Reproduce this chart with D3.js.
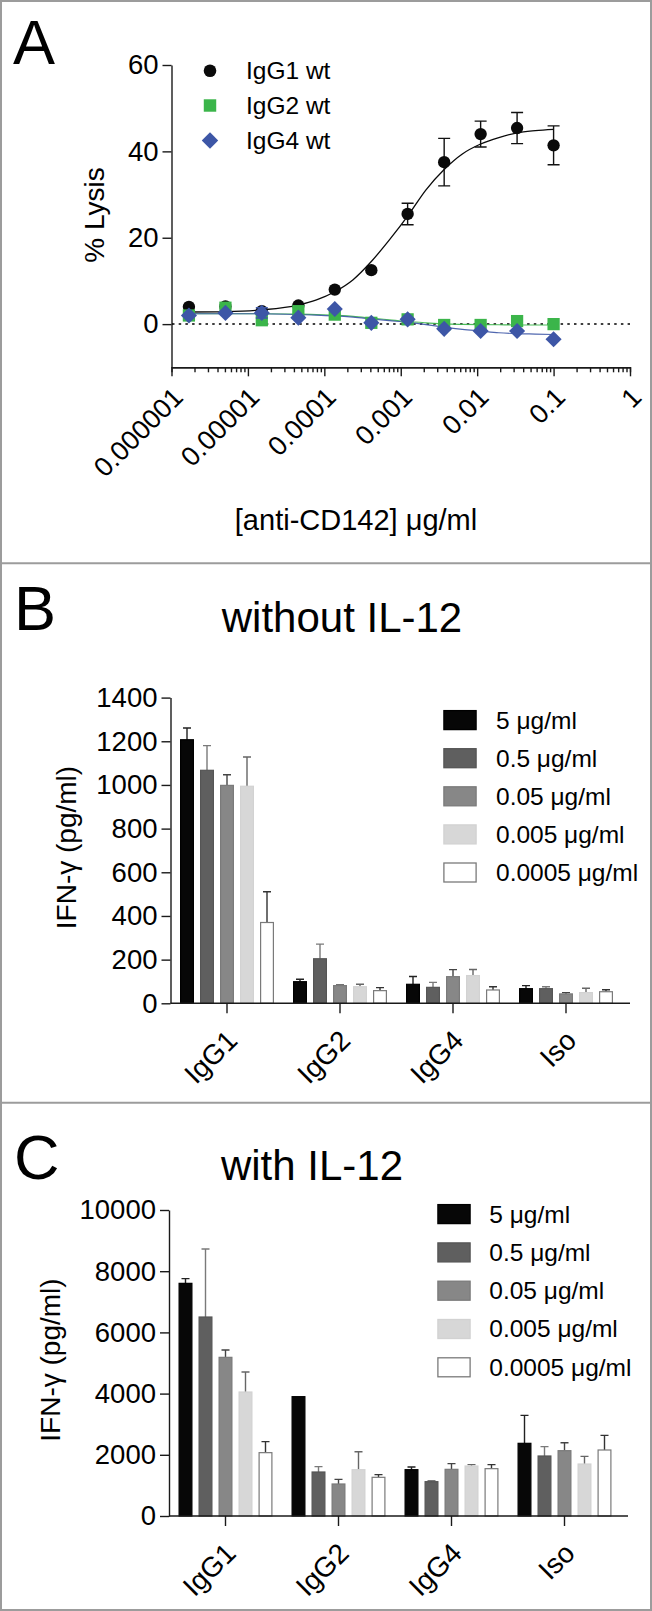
<!DOCTYPE html>
<html><head><meta charset="utf-8">
<script src="https://cdn.jsdelivr.net/npm/d3@7"></script>
<style>
html,body{margin:0;padding:0;background:#fff;}
svg text{font-family:"Liberation Sans",Arial,Helvetica,sans-serif;fill:#000;}
</style></head>
<body>
<svg id="fig" width="652" height="1611"></svg>
<script>
// ---------- Panel A data ----------
const concA = [1.69e-6, 5.08e-6, 1.52e-5, 4.57e-5, 1.37e-4, 4.12e-4, 1.23e-3, 3.70e-3, 1.11e-2, 3.33e-2, 0.1];
const lysisIgG1 = [4.0, 4.1, 3.0, 4.3, 8.0, 12.5, 25.5, 37.5, 44.0, 45.4, 41.4];
const errIgG1   = [0, 0, 0, 0, 0, 0, 2.5, 5.5, 3.0, 3.6, 4.5];
const lysisIgG2 = [2.0, 3.8, 0.9, 3.0, 2.2, 0.3, 1.1, -0.2, -0.2, 0.7, 0.0];
const errIgG2   = [0, 0, 0, 0, 0, 0, 0, 0, 0, 0, 0];
const lysisIgG4 = [2.0, 2.6, 2.6, 1.5, 3.5, 0.3, 1.1, -1.1, -1.6, -1.6, -3.5];
const errIgG4   = [0, 0, 1.2, 0, 0, 0, 0, 0, 0, 0, 0];
// fitted curves
const fitConc = [1.69e-6, 5.08e-6, 1.52e-5, 4.57e-5, 7.9e-5, 1.37e-4, 2.38e-4, 4.12e-4, 7.1e-4, 1.23e-3, 2.14e-3, 3.70e-3, 6.4e-3, 1.11e-2, 1.92e-2, 3.33e-2, 5.77e-2, 0.1];
const fitIgG1 = [2.8, 2.9, 3.3, 4.4, 5.6, 7.5, 10.3, 14.5, 19.5, 25.0, 31.1, 35.8, 39.4, 41.7, 43.2, 44.3, 44.8, 45.1];
const fitIgG2 = [2.4, 2.4, 2.4, 2.3, 2.2, 2.1, 1.8, 1.4, 1.0, 0.6, 0.3, 0.05, -0.05, -0.1, -0.15, -0.2, -0.2, -0.2];
const fitIgG4 = [2.4, 2.4, 2.4, 2.2, 2.1, 1.9, 1.6, 1.2, 0.8, 0.4, -0.1, -0.7, -1.2, -1.6, -2.0, -2.2, -2.3, -2.4];
const seriesA = ["IgG1 wt", "IgG2 wt", "IgG4 wt"];
const xTicksA = [1e-6, 1e-5, 1e-4, 1e-3, 1e-2, 1e-1, 1];
const xTickLabelsA = ["0.000001", "0.00001", "0.0001", "0.001", "0.01", "0.1", "1"];
const yTicksA = [0, 20, 40, 60];

// ---------- Panels B / C data ----------
const groups = ["IgG1", "IgG2", "IgG4", "Iso"];
const doses = ["5 \u03BCg/ml", "0.5 \u03BCg/ml", "0.05 \u03BCg/ml", "0.005 \u03BCg/ml", "0.0005 \u03BCg/ml"];
// without IL-12 (B): one array per dose, values per group
const bDose5     = [1207, 99, 87, 67];
const bDose05    = [1067, 204, 73, 67];
const bDose005   = [998, 81, 122, 43];
const bDose0005  = [994, 76, 127, 49];
const bDose00005 = [370, 58, 61, 53];
const bErr5     = [54, 11, 36, 14];
const bErr05    = [113, 67, 23, 9];
const bErr005   = [49, 3, 32, 6];
const bErr0005  = [134, 11, 28, 20];
const bErr00005 = [141, 14, 15, 9];
const yTicksB = [0, 200, 400, 600, 800, 1000, 1200, 1400];
// with IL-12 (C)
const cDose5     = [7603, 3900, 1514, 2375];
const cDose05    = [6503, 1438, 1122, 1961];
const cDose005   = [5185, 1046, 1525, 2135];
const cDose0005  = [4052, 1514, 1634, 1699];
const cDose00005 = [2070, 1264, 1547, 2157];
const cErr5     = [153, 0, 87, 915];
const cErr05    = [2222, 174, 33, 305];
const cErr005   = [240, 152, 185, 261];
const cErr0005  = [654, 588, 44, 251];
const cErr00005 = [359, 87, 131, 479];
const yTicksC = [0, 2000, 4000, 6000, 8000, 10000];

// ---------- styles ----------
const barFill   = ["#070707", "#5f5f5f", "#878787", "#d7d7d7", "#ffffff"];
const barStroke = ["#000000", "#555555", "#7a7a7a", "#d2d2d2", "#7a7a7a"];
const errColor  = ["#222222", "#7a7a7a", "#444444", "#666666", "#333333"];
const colA = ["#0a0a0a", "#3bb54a", "#3d56a6"];
const FONT = "Liberation Sans, Arial, sans-serif";
const AX = "#1a1a1a";
const fmt = d3.format("d");

const svg = d3.select("#fig");

// frame + dividers
svg.append("rect").attr("x", 1).attr("y", 1).attr("width", 650).attr("height", 1609)
  .attr("fill", "none").attr("stroke", "#9c9c9c").attr("stroke-width", 2);
[563.3, 1102.7].forEach(y => svg.append("line").attr("x1", 0).attr("x2", 652)
  .attr("y1", y).attr("y2", y).attr("stroke", "#9c9c9c").attr("stroke-width", 2));

function styleAxis(g, fs) {
  g.selectAll(".domain").attr("stroke", AX).attr("stroke-width", 1.4);
  g.selectAll(".tick line").attr("stroke", AX).attr("stroke-width", 1.4);
  g.selectAll("text").attr("font-family", FONT).attr("font-size", fs).attr("fill", "#000");
}

// symbols: circle, square, diamond (= square turned 45 degrees)
const symDef = [
  { type: d3.symbolCircle, size: 120, rot: 0 },
  { type: d3.symbolSquare, size: 150, rot: 0 },
  { type: d3.symbolSquare, size: 130, rot: 45 }
];

// ================= Panel A =================
{
  const x = d3.scaleLog().domain([1e-6, 1]).range([171.5, 630]);
  const y = d3.scaleLinear().domain([-10, 60]).range([367.3, 65]);
  const gA = svg.append("g");

  svg.append("text").attr("x", 13).attr("y", 64).attr("font-size", 63).text("A");

  // y axis
  const ya = gA.append("g").attr("transform", "translate(171.5,0)")
    .call(d3.axisLeft(y).tickValues(yTicksA).tickSize(9).tickSizeOuter(0).tickPadding(4).tickFormat(fmt));
  styleAxis(ya, 27.5);

  // x axis: minor ticks
  const minors = [];
  for (let e = -6; e < 0; e++) for (let m = 2; m <= 9; m++) minors.push(m * Math.pow(10, e));
  const xm = gA.append("g").attr("transform", "translate(0,367.3)")
    .call(d3.axisBottom(x).tickValues(minors).tickSize(5).tickFormat(""));
  styleAxis(xm, 0);
  const xa = gA.append("g").attr("transform", "translate(0,367.3)")
    .call(d3.axisBottom(x).tickValues(xTicksA).tickSize(9).tickSizeOuter(0)
      .tickFormat((d, i) => xTickLabelsA[i]));
  styleAxis(xa, 27);
  xa.selectAll(".tick text").attr("text-anchor", "end").attr("x", 0).attr("y", 0)
    .attr("dy", "0.35em").attr("transform", "translate(6,25) rotate(-45)");

  // zero dotted line
  gA.append("line").attr("x1", 172).attr("x2", 630).attr("y1", y(0)).attr("y2", y(0))
    .attr("stroke", "#000").attr("stroke-width", 1.5).attr("stroke-dasharray", "2.5,4.2");

  // titles
  svg.append("text").attr("transform", `translate(104,215) rotate(-90)`)
    .attr("text-anchor", "middle").attr("font-size", 28).text("% Lysis");
  svg.append("text").attr("x", 356).attr("y", 530).attr("text-anchor", "middle")
    .attr("font-size", 29).text("[anti-CD142] \u03BCg/ml");

  // curves
  const line = d3.line().x(d => x(d[0])).y(d => y(d[1])).curve(d3.curveMonotoneX);
  [fitIgG1, fitIgG2, fitIgG4].forEach((fit, k) => {
    gA.append("path").attr("d", line(fitConc.map((c, i) => [c, fit[i]])))
      .attr("fill", "none").attr("stroke", colA[k]).attr("stroke-width", k === 0 ? 1.3 : 1.2)
      .attr("opacity", k === 0 ? 1 : 0.9);
  });

  const sets = [[lysisIgG1, errIgG1], [lysisIgG2, errIgG2], [lysisIgG4, errIgG4]];
  sets.forEach(([vals, errs], k) => {
    const g = gA.append("g");
    vals.forEach((v, i) => {
      const e = errs[i];
      if (e > 0) {
        const cx = x(concA[i]);
        g.append("path").attr("d",
          `M${cx},${y(v - e)}V${y(v + e)}M${cx - 6},${y(v + e)}H${cx + 6}M${cx - 6},${y(v - e)}H${cx + 6}`)
          .attr("stroke", k === 0 ? "#111" : colA[k]).attr("stroke-width", 1.4).attr("fill", "none");
      }
    });
    g.selectAll("path.pt").data(vals).join("path").attr("class", "pt")
      .attr("transform", (v, i) => `translate(${x(concA[i])},${y(v)}) rotate(${symDef[k].rot})`)
      .attr("d", d3.symbol(symDef[k].type, symDef[k].size)).attr("fill", colA[k]);
  });

  // legend
  const ly = [70.7, 105.5, 140.5];
  seriesA.forEach((s, k) => {
    svg.append("path").attr("transform", `translate(210,${ly[k]}) rotate(${symDef[k].rot})`)
      .attr("d", d3.symbol(symDef[k].type, symDef[k].size + 5)).attr("fill", colA[k]);
    svg.append("text").attr("x", 246).attr("y", ly[k]).attr("dy", "0.35em")
      .attr("font-size", 24.5).text(s);
  });
}

// ================= Bar panels =================
function barPanel(opt) {
  const { axisX, y0, yTop, yMax, yTicks, series, errs, title, titleX, titleY, letter, letterY,
          legX, legY0, legStep, textX, yTitleX, yTitleY, axisEnd } = opt;
  const x0 = d3.scaleBand().domain(groups).range([axisX, axisX + 452]).padding(0);
  const x1 = d3.scaleBand().domain(d3.range(5)).range([-50, 50]).paddingInner(0.3).paddingOuter(0.15);
  const y = d3.scaleLinear().domain([0, yMax]).range([y0, yTop]);
  const g = svg.append("g");

  svg.append("text").attr("x", 14).attr("y", letterY).attr("font-size", 63).text(letter);
  svg.append("text").attr("x", titleX).attr("y", titleY).attr("text-anchor", "middle")
    .attr("font-size", 42).text(title);

  const ya = g.append("g").attr("transform", `translate(${axisX},0)`)
    .call(d3.axisLeft(y).tickValues(yTicks).tickSize(9).tickSizeOuter(0).tickPadding(4).tickFormat(fmt));
  styleAxis(ya, 27.5);

  // bars
  series.forEach((vals, s) => {
    const bars = g.append("g");
    vals.forEach((v, i) => {
      const cx = x0(groups[i]) + x0.bandwidth() / 2;
      const bx = cx + x1(s);
      const e = errs[s][i];
      if (e > 0) {
        const mid = bx + x1.bandwidth() / 2;
        bars.append("path").attr("d", `M${mid},${y(v)}V${y(v + e)}M${mid - 4},${y(v + e)}H${mid + 4}`)
          .attr("stroke", errColor[s]).attr("stroke-width", 1.4).attr("fill", "none");
      }
      bars.append("rect").attr("x", bx + 0.6).attr("y", y(v)).attr("width", x1.bandwidth() - 1.2)
        .attr("height", y0 - y(v)).attr("fill", barFill[s]).attr("stroke", barStroke[s])
        .attr("stroke-width", 1.2);
    });
  });

  // x axis
  const xa = g.append("g").attr("transform", `translate(0,${y0})`)
    .call(d3.axisBottom(x0).tickSize(10).tickSizeOuter(0));
  xa.select(".domain").attr("d", `M${axisX},0H${axisEnd}`);
  styleAxis(xa, 28);
  xa.selectAll(".tick text").attr("text-anchor", "end").attr("x", 0).attr("y", 0)
    .attr("dy", "0.35em").attr("transform", "translate(5,32) rotate(-45)");

  // y title
  svg.append("text").attr("transform", `translate(${yTitleX},${yTitleY}) rotate(-90)`)
    .attr("text-anchor", "middle").attr("font-size", 28).text("IFN-\u03B3 (pg/ml)");

  // legend
  doses.forEach((d, s) => {
    const ty = legY0 + s * legStep;
    svg.append("rect").attr("x", legX + 0.6).attr("y", ty + 0.6).attr("width", 32.2).attr("height", 19)
      .attr("fill", barFill[s]).attr("stroke", barStroke[s]).attr("stroke-width", 1.3);
    svg.append("text").attr("x", textX).attr("y", ty + 10).attr("dy", "0.35em")
      .attr("font-size", 24.5).text(d);
  });
}

barPanel({
  axisX: 170.5, y0: 1003.3, yTop: 697.6, yMax: 1400, yTicks: yTicksB,
  series: [bDose5, bDose05, bDose005, bDose0005, bDose00005],
  errs: [bErr5, bErr05, bErr005, bErr0005, bErr00005],
  title: "without IL-12", titleX: 342, titleY: 631.5, letter: "B", letterY: 630,
  legX: 443.3, legY0: 710, legStep: 38.1, textX: 496, yTitleX: 76, yTitleY: 847.5, axisEnd: 630
});
barPanel({
  axisX: 169, y0: 1516, yTop: 1210, yMax: 10000, yTicks: yTicksC,
  series: [cDose5, cDose05, cDose005, cDose0005, cDose00005],
  errs: [cErr5, cErr05, cErr005, cErr0005, cErr00005],
  title: "with IL-12", titleX: 312, titleY: 1180, letter: "C", letterY: 1179,
  legX: 437.3, legY0: 1204, legStep: 38.3, textX: 489.3, yTitleX: 60, yTitleY: 1360, axisEnd: 628
});
</script>
</body></html>
